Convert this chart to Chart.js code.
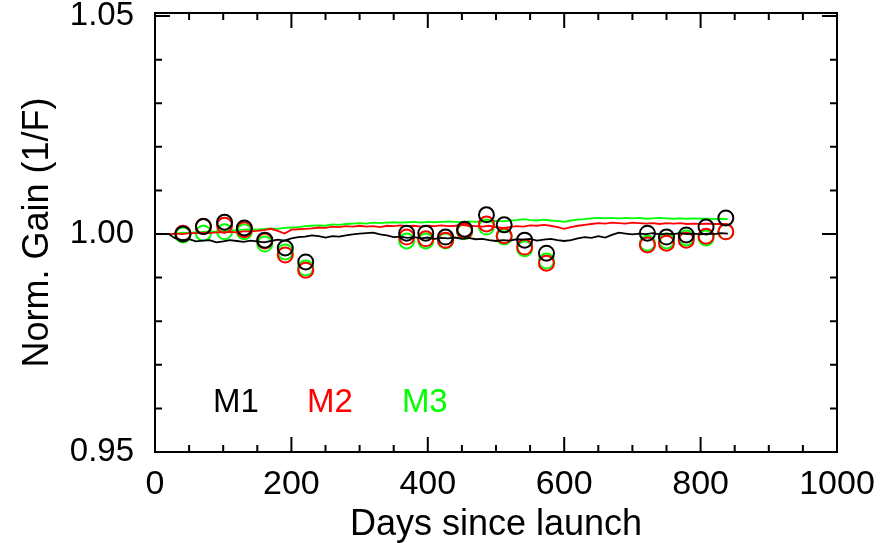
<!DOCTYPE html>
<html>
<head>
<meta charset="utf-8">
<script src="https://cdn.jsdelivr.net/npm/chart.js@4"></script>
<style>
  body { margin: 0; background: #fff; }
</style>
</head>
<body>
<canvas id="c" width="892" height="543"></canvas>
<script>
// measurement days (circles)
const circleDays = [41, 71, 102, 131, 161, 191, 221, 369, 397, 426, 454, 486, 512, 542, 574, 722, 750, 779, 808, 837];
const m1Circles = [1.0000, 1.0017, 1.0027, 1.0014, 0.9986, 0.9968, 0.9936, 1.0002, 1.0002, 0.9993, 1.0011, 1.0044, 1.0021, 0.9986, 0.9956, 1.0002, 0.9993, 0.9998, 1.0016, 1.0037];
const m2Circles = [1.0002, 1.0018, 1.0020, 1.0010, 0.9984, 0.9952, 0.9917, 0.9993, 0.9989, 0.9986, 1.0007, 1.0023, 0.9996, 0.9970, 0.9933, 0.9975, 0.9979, 0.9986, 0.9995, 1.0005];
const m3Circles = [0.9998, 1.0002, 1.0005, 1.0005, 0.9977, 0.9959, 0.9922, 0.9984, 0.9984, 0.9984, 1.0005, 1.0016, 0.9993, 0.9966, 0.9938, 0.9979, 0.9984, 0.9991, 0.9991, 1.0005];

// continuous trend lines
const lineDays = [
  20, 30, 40, 50, 60, 70, 80, 90, 100, 110,
  120, 130, 140, 150, 160, 170, 180, 190, 200, 210,
  220, 230, 240, 250, 260, 270, 280, 290, 300, 310,
  320, 330, 340, 350, 360, 370, 380, 390, 400, 410,
  420, 430, 440, 450, 460, 470, 480, 490, 500, 510,
  520, 530, 540, 550, 560, 570, 580, 590, 600, 610,
  620, 630, 640, 650, 660, 670, 680, 690, 700, 710,
  720, 730, 740, 750, 760, 770, 780, 790, 800, 810,
  820, 830, 840];
const m1Line = [
  1.0000, 0.9990, 0.9986, 0.9988, 0.9983, 0.9985, 0.9986, 0.9981, 0.9983, 0.9986,
  0.9984, 0.9982, 0.9985, 0.9983, 0.9981, 0.9984, 0.9987, 0.9985, 0.9990, 0.9993,
  0.9994, 0.9997, 0.9995, 0.9992, 0.9995, 0.9994, 0.9997, 0.9999, 1.0001, 1.0002,
  1.0003, 0.9999, 0.9997, 0.9993, 0.9994, 0.9991, 0.9993, 0.9990, 0.9992, 0.9989,
  0.9991, 0.9990, 0.9992, 0.9989, 0.9991, 0.9988, 0.9989, 0.9986, 0.9984, 0.9986,
  0.9985, 0.9988, 0.9987, 0.9989, 0.9985, 0.9987, 0.9989, 0.9986, 0.9984, 0.9986,
  0.9990, 0.9993, 0.9991, 0.9995, 0.9992, 0.9998, 1.0003, 1.0001, 0.9999, 1.0001,
  1.0000, 1.0002, 0.9999, 1.0001, 1.0000, 1.0002, 1.0000, 1.0001, 0.9999, 1.0001,
  1.0000, 1.0002, 1.0001];
const m2Line = [
  1.0000, 1.0001, 1.0000, 1.0002, 1.0002, 1.0003, 1.0002, 1.0004, 1.0004, 1.0005,
  1.0004, 1.0006, 1.0006, 1.0007, 1.0009, 1.0012, 1.0007, 1.0001, 1.0010, 1.0011,
  1.0012, 1.0013, 1.0015, 1.0014, 1.0017, 1.0016, 1.0018, 1.0017, 1.0019, 1.0017,
  1.0018, 1.0016, 1.0019, 1.0018, 1.0020, 1.0018, 1.0019, 1.0017, 1.0019, 1.0018,
  1.0020, 1.0018, 1.0019, 1.0021, 1.0019, 1.0018, 1.0017, 1.0019, 1.0016, 1.0014,
  1.0016, 1.0018, 1.0017, 1.0020, 1.0019, 1.0021, 1.0019, 1.0016, 1.0012, 1.0016,
  1.0019, 1.0021, 1.0023, 1.0025, 1.0024, 1.0026, 1.0025, 1.0024, 1.0026, 1.0025,
  1.0024, 1.0025, 1.0023, 1.0025, 1.0024, 1.0025, 1.0023, 1.0024, 1.0023, 1.0024,
  1.0023, 1.0023, 1.0022];
const m3Line = [
  1.0000, 1.0001, 1.0003, 1.0002, 1.0004, 1.0005, 1.0006, 1.0005, 1.0007, 1.0008,
  1.0009, 1.0010, 1.0011, 1.0010, 1.0012, 1.0013, 1.0012, 1.0014, 1.0015, 1.0016,
  1.0018, 1.0019, 1.0020, 1.0019, 1.0022, 1.0021, 1.0023, 1.0024, 1.0025, 1.0024,
  1.0026, 1.0025, 1.0026, 1.0027, 1.0026, 1.0027, 1.0028, 1.0026, 1.0028, 1.0027,
  1.0028, 1.0029, 1.0028, 1.0027, 1.0029, 1.0028, 1.0030, 1.0029, 1.0030, 1.0029,
  1.0031, 1.0032, 1.0034, 1.0032, 1.0031, 1.0033, 1.0031, 1.0030, 1.0028, 1.0031,
  1.0033, 1.0034, 1.0036, 1.0037, 1.0036, 1.0037, 1.0036, 1.0037, 1.0036, 1.0037,
  1.0035, 1.0036, 1.0037, 1.0036, 1.0035, 1.0036, 1.0035, 1.0036, 1.0035, 1.0035,
  1.0034, 1.0035, 1.0034];

const xTicks = [0, 200, 400, 600, 800, 1000];
const yTicks = [0.95, 1.00, 1.05];
const series = ['M1', 'M2', 'M3'];
const colors = ['#000000', '#ff0000', '#00ff00'];

const FONT = "'Liberation Sans', Arial, sans-serif";

function pts(xs, ys) {
  return xs.map((x, i) => ({ x: x, y: ys[i] }));
}

const lines = [m1Line, m2Line, m3Line];
const circles = [m1Circles, m2Circles, m3Circles];
const datasets = [];
for (let i = 0; i < 3; i++) {
  datasets.push({
    label: series[i] + ' line',
    data: pts(lineDays, lines[i]),
    showLine: true,
    borderColor: colors[i],
    borderWidth: 1.8,
    pointRadius: 0,
    tension: 0
  });
  datasets.push({
    label: series[i],
    data: pts(circleDays, circles[i]),
    showLine: false,
    pointStyle: 'circle',
    pointRadius: 7.5,
    borderColor: colors[i],
    borderWidth: 2,
    backgroundColor: 'rgba(0,0,0,0)'
  });
}

// IDL-style box with inward ticks, plus the M1/M2/M3 labels
const boxPlugin = {
  id: 'box',
  afterDatasetsDraw(chart) {
    const { ctx, chartArea: a, scales: { x, y } } = chart;
    ctx.save();
    ctx.strokeStyle = '#000';
    ctx.lineWidth = 2;
    ctx.strokeRect(a.left, a.top, a.right - a.left, a.bottom - a.top);
    ctx.beginPath();
    for (let d = 0; d <= 1000; d += 50) {
      const px = x.getPixelForValue(d);
      const len = d % 200 === 0 ? 15 : 7;
      ctx.moveTo(px, a.bottom); ctx.lineTo(px, a.bottom - len);
      ctx.moveTo(px, a.top); ctx.lineTo(px, a.top + len);
    }
    for (let k = 0; k <= 10; k++) {
      const v = 0.95 + k * 0.01;
      const py = y.getPixelForValue(v);
      const len = k % 5 === 0 ? 15 : 7;
      ctx.moveTo(a.left, py); ctx.lineTo(a.left + len, py);
      ctx.moveTo(a.right, py); ctx.lineTo(a.right - len, py);
    }
    ctx.stroke();

    ctx.font = '33px ' + FONT;
    ctx.textBaseline = 'middle';
    ctx.textAlign = 'left';
    const labelX = [85, 223, 362];
    for (let i = 0; i < 3; i++) {
      ctx.fillStyle = colors[i];
      ctx.fillText(series[i], x.getPixelForValue(labelX[i]), y.getPixelForValue(0.9612));
    }
    ctx.restore();
  }
};

new Chart(document.getElementById('c'), {
  type: 'scatter',
  data: { datasets: datasets },
  options: {
    responsive: false,
    animation: false,
    layout: { padding: { top: 13, right: 55, bottom: 0, left: 0 } },
    plugins: { legend: { display: false }, tooltip: { enabled: false } },
    scales: {
      x: {
        type: 'linear',
        min: 0,
        max: 1000,
        afterBuildTicks: s => { s.ticks = xTicks.map(v => ({ value: v })); },
        afterFit: s => { s.height = 91; s.paddingLeft = 0; s.paddingRight = 0; },
        grid: { display: false },
        border: { display: false },
        ticks: {
          color: '#000',
          font: { family: FONT, size: 34 },
          padding: 4,
          maxRotation: 0,
          callback: v => String(v)
        },
        title: {
          display: true,
          text: 'Days since launch',
          color: '#000',
          font: { family: FONT, size: 36 },
          padding: { top: 0, bottom: -4 }
        }
      },
      y: {
        type: 'linear',
        min: 0.95,
        max: 1.0507,
        afterBuildTicks: s => { s.ticks = yTicks.map(v => ({ value: v })); },
        afterFit: s => { s.width = 155; s.paddingTop = 0; s.paddingBottom = 0; },
        grid: { display: false },
        border: { display: false },
        ticks: {
          color: '#000',
          font: { family: FONT, size: 33 },
          padding: 13,
          callback: v => v.toFixed(2)
        },
        title: {
          display: true,
          text: 'Norm. Gain (1/F)',
          color: '#000',
          font: { family: FONT, size: 36 },
          padding: { top: 16, bottom: 0 }
        }
      }
    }
  },
  plugins: [boxPlugin]
});
</script>
</body>
</html>
